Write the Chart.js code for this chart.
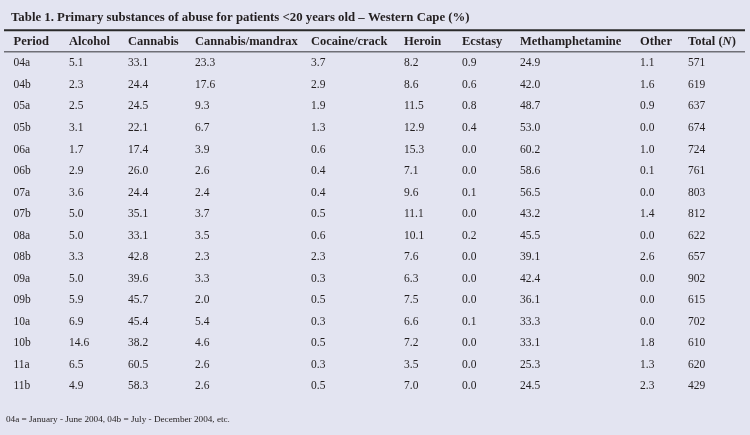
<!DOCTYPE html>
<html>
<head>
<meta charset="utf-8">
<script src="https://cdn.jsdelivr.net/npm/chart.js@4.4.1/dist/chart.umd.min.js"></script>
<style>
  html, body { margin: 0; padding: 0; background: #e3e4f1; }
  #wrap { width: 750px; height: 435px; }
</style>
</head>
<body>
<div id="wrap"><canvas id="tbl"></canvas></div>
<script>
const title = 'Table 1. Primary substances of abuse for patients <20 years old \u2013 Western Cape (%)';
const footnote = '04a = January - June 2004, 04b = July - December 2004, etc.';

const columns = ['Period', 'Alcohol', 'Cannabis', 'Cannabis/mandrax', 'Cocaine/crack',
  'Heroin', 'Ecstasy', 'Methamphetamine', 'Other', 'Total (N)'];

const periods = ['04a', '04b', '05a', '05b', '06a', '06b', '07a', '07b',
  '08a', '08b', '09a', '09b', '10a', '10b', '11a', '11b'];
const alcohol = [5.1, 2.3, 2.5, 3.1, 1.7, 2.9, 3.6, 5.0, 5.0, 3.3, 5.0, 5.9, 6.9, 14.6, 6.5, 4.9];
const cannabis = [33.1, 24.4, 24.5, 22.1, 17.4, 26.0, 24.4, 35.1, 33.1, 42.8, 39.6, 45.7, 45.4, 38.2, 60.5, 58.3];
const mandrax = [23.3, 17.6, 9.3, 6.7, 3.9, 2.6, 2.4, 3.7, 3.5, 2.3, 3.3, 2.0, 5.4, 4.6, 2.6, 2.6];
const cocaine = [3.7, 2.9, 1.9, 1.3, 0.6, 0.4, 0.4, 0.5, 0.6, 2.3, 0.3, 0.5, 0.3, 0.5, 0.3, 0.5];
const heroin = [8.2, 8.6, 11.5, 12.9, 15.3, 7.1, 9.6, 11.1, 10.1, 7.6, 6.3, 7.5, 6.6, 7.2, 3.5, 7.0];
const ecstasy = [0.9, 0.6, 0.8, 0.4, 0.0, 0.0, 0.1, 0.0, 0.2, 0.0, 0.0, 0.0, 0.1, 0.0, 0.0, 0.0];
const meth = [24.9, 42.0, 48.7, 53.0, 60.2, 58.6, 56.5, 43.2, 45.5, 39.1, 42.4, 36.1, 33.3, 33.1, 25.3, 24.5];
const other = [1.1, 1.6, 0.9, 0.0, 1.0, 0.1, 0.0, 1.4, 0.0, 2.6, 0.0, 0.0, 0.0, 1.8, 1.3, 2.3];
const totalN = [571, 619, 637, 674, 724, 761, 803, 812, 622, 657, 902, 615, 702, 610, 620, 429];

// layout only: left edge of each column on the x scale (0..750)
const colLeft = [13.5, 69, 128, 195, 311, 404, 462, 520, 640, 688];
const ruleFrom = 4, ruleTo = 745;

const serif = '"Liberation Serif", "Times New Roman", serif';
const ink = '#231f20';

// row keys for the y category scale: header row first, then the periods
const rowKeys = ['header'].concat(periods);

function cellsFor(i) {
  const pct = [alcohol, cannabis, mandrax, cocaine, heroin, ecstasy, meth, other]
    .map(arr => arr[i].toFixed(1));
  return [periods[i]].concat(pct, [String(totalN[i])]);
}

const tablePlugin = {
  id: 'tableCells',
  afterDraw(chart) {
    const { ctx, chartArea } = chart;
    const x = chart.scales.x;
    const y = chart.scales.y;
    const rowH = (chartArea.bottom - chartArea.top) / rowKeys.length;
    ctx.save();
    ctx.fillStyle = ink;
    ctx.textBaseline = 'alphabetic';

    // title
    ctx.font = 'bold 12.8px ' + serif;
    ctx.fillText(title, x.getPixelForValue(11), chartArea.top - 9.5);

    // rules
    ctx.strokeStyle = '#2a2a2a';
    ctx.lineWidth = 2;
    ctx.beginPath();
    ctx.moveTo(x.getPixelForValue(ruleFrom), chartArea.top);
    ctx.lineTo(x.getPixelForValue(ruleTo), chartArea.top);
    ctx.stroke();
    ctx.strokeStyle = '#6f6f76';
    ctx.lineWidth = 1.5;
    const hdrLine = y.getPixelForValue(0) + rowH / 2;
    ctx.beginPath();
    ctx.moveTo(x.getPixelForValue(ruleFrom), hdrLine);
    ctx.lineTo(x.getPixelForValue(ruleTo), hdrLine);
    ctx.stroke();

    // header row
    ctx.fillStyle = ink;
    const hdrFont = 'bold 12.5px ' + serif;
    ctx.font = hdrFont;
    const hy = y.getPixelForValue(0) + 3.9;
    columns.forEach((c, ci) => {
      const cx = x.getPixelForValue(colLeft[ci]);
      if (c === 'Total (N)') {
        let px = cx;
        ctx.font = hdrFont;
        ctx.fillText('Total (', px, hy);
        px += ctx.measureText('Total (').width;
        ctx.font = 'italic ' + hdrFont;
        ctx.fillText('N', px, hy);
        px += ctx.measureText('N').width;
        ctx.font = hdrFont;
        ctx.fillText(')', px, hy);
      } else {
        ctx.fillText(c, cx, hy);
      }
    });

    // body rows
    ctx.font = '11.5px ' + serif;
    periods.forEach((p, i) => {
      const ry = y.getPixelForValue(i + 1) + 3.9;
      cellsFor(i).forEach((txt, ci) => {
        ctx.fillText(txt, x.getPixelForValue(colLeft[ci]), ry);
      });
    });

    // footnote
    ctx.font = '9.2px ' + serif;
    ctx.fillText(footnote, x.getPixelForValue(6), chartArea.bottom + 26);
    ctx.restore();
  }
};

new Chart(document.getElementById('tbl'), {
  type: 'scatter',
  data: { labels: rowKeys, datasets: [{ data: [], pointRadius: 0 }] },
  options: {
    responsive: true,
    maintainAspectRatio: false,
    animation: false,
    layout: { padding: { top: 30.2, bottom: 38.7, left: 0, right: 0 } },
    plugins: { legend: { display: false }, tooltip: { enabled: false } },
    scales: {
      x: { type: 'linear', min: 0, max: 750, display: false },
      y: { type: 'category', labels: rowKeys, offset: true, display: false }
    }
  },
  plugins: [tablePlugin]
});
</script>
</body>
</html>
